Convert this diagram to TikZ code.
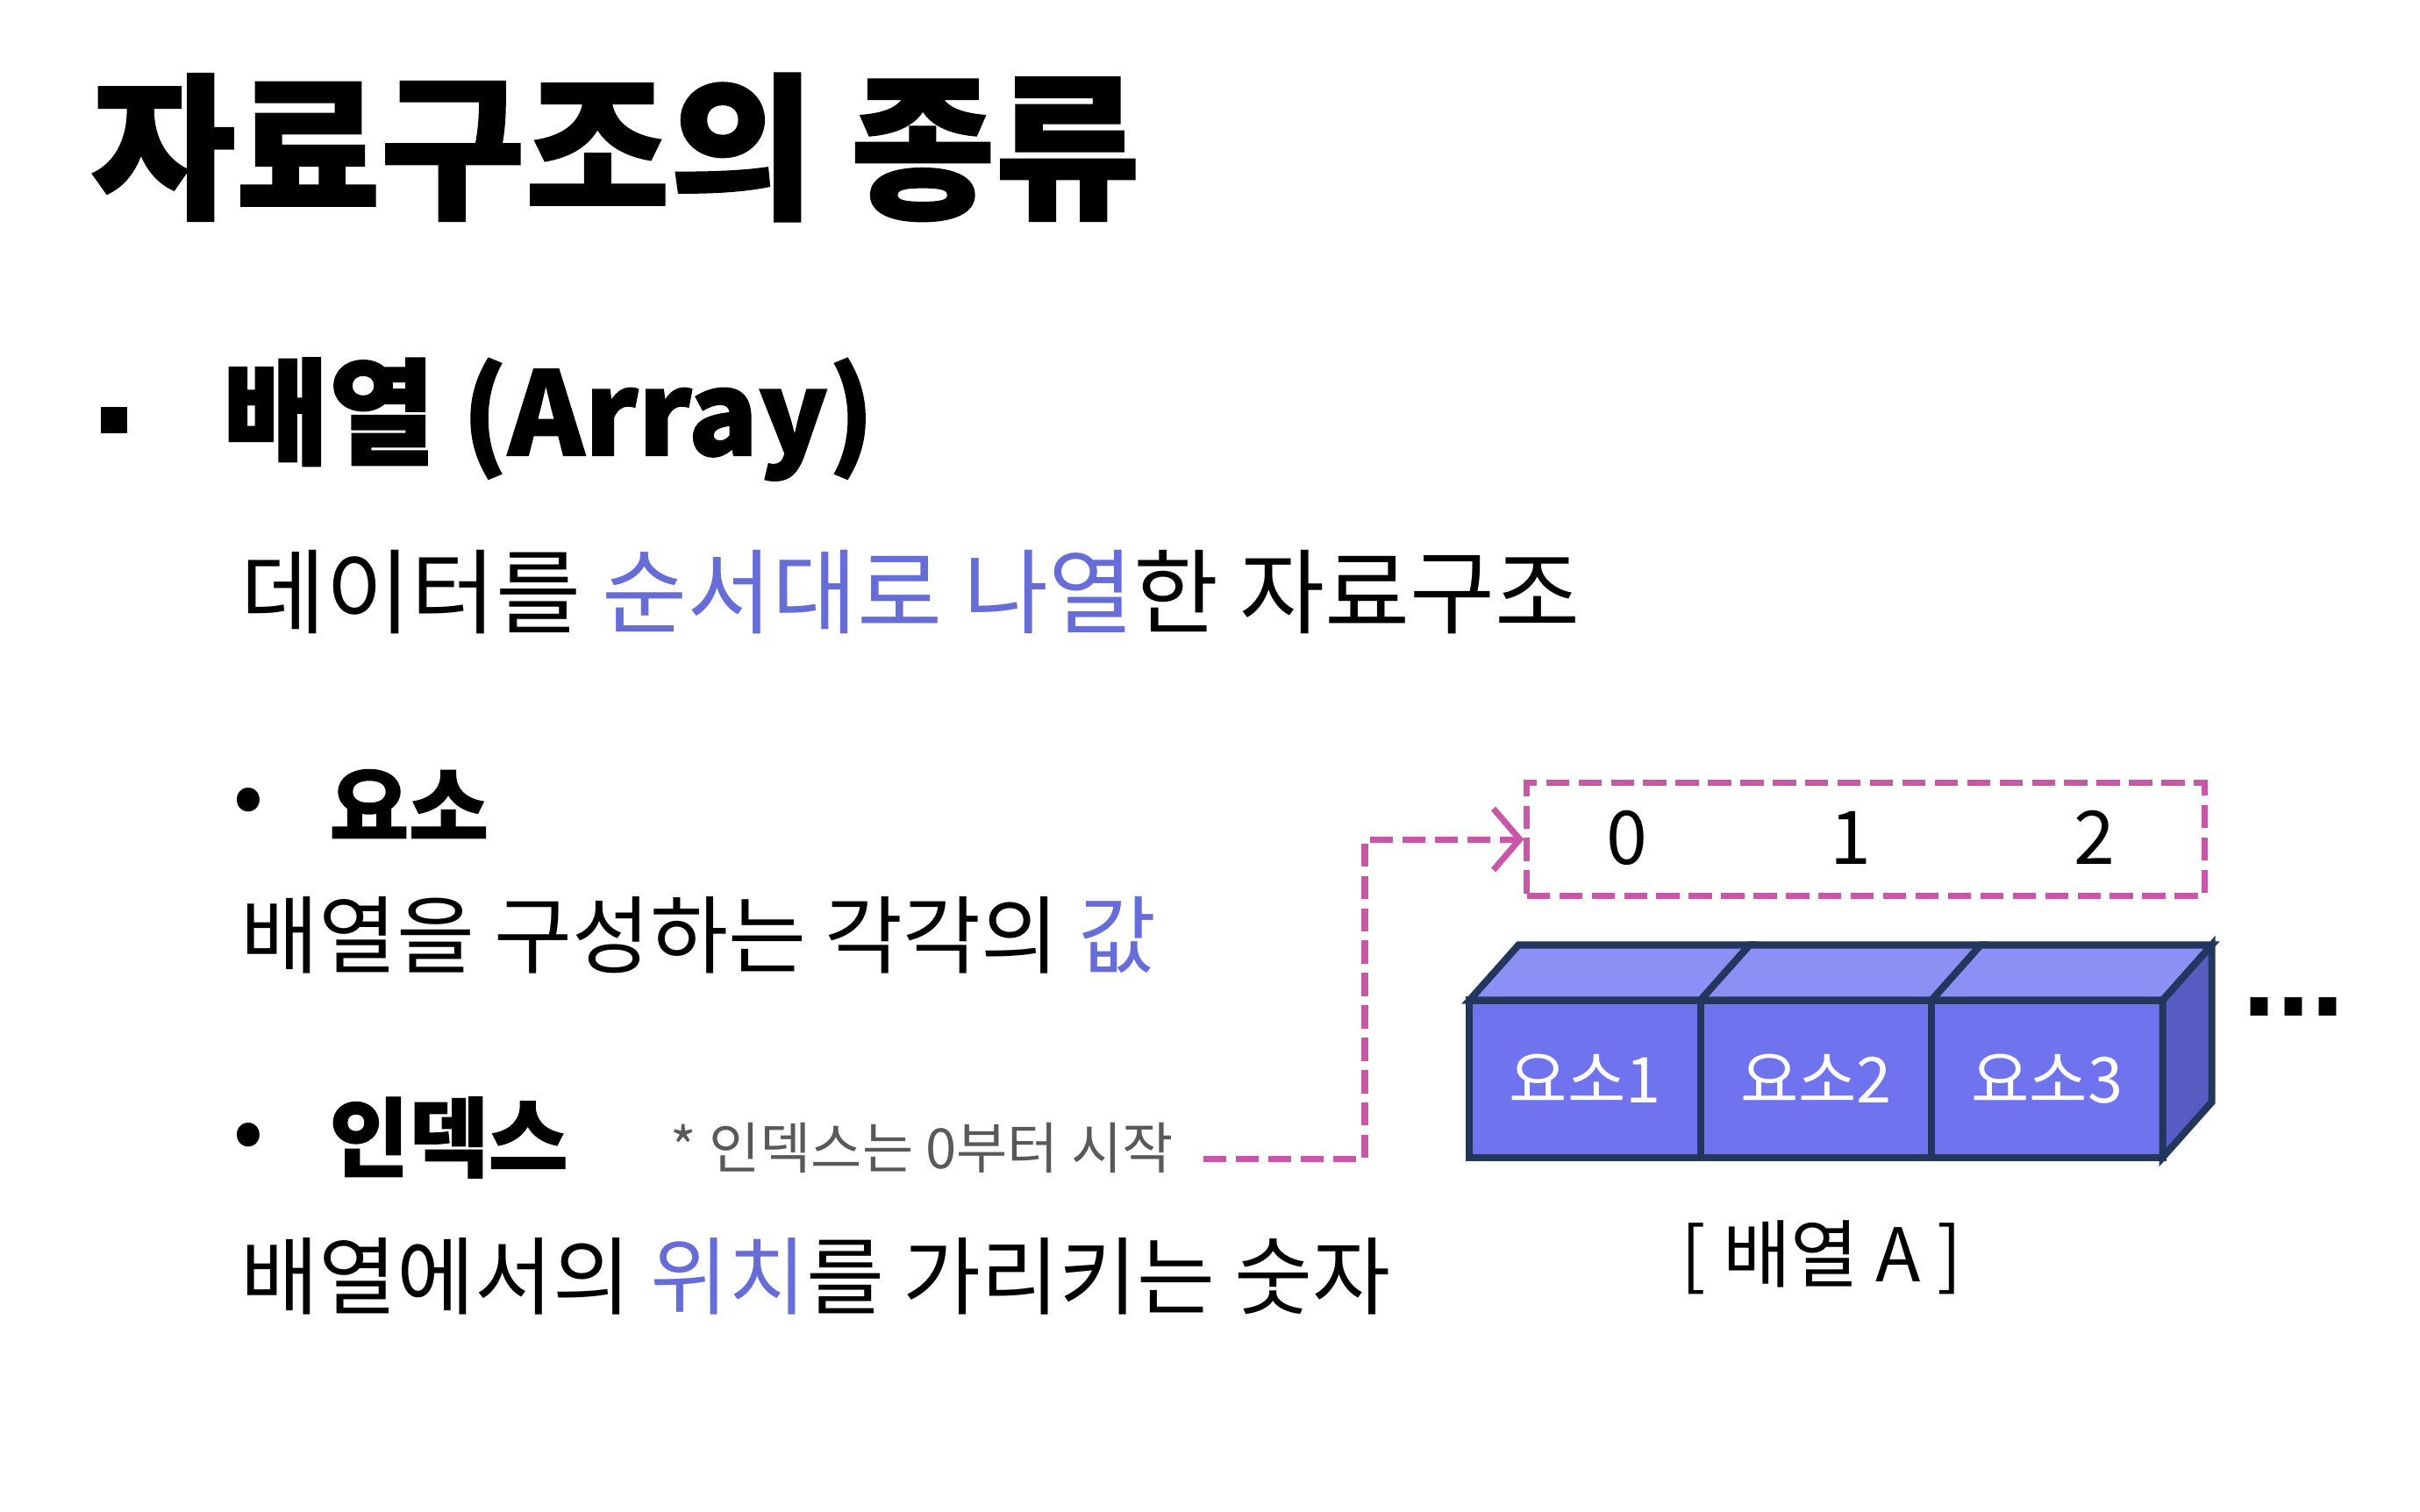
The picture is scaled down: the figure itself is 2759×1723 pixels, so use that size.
\documentclass[tikz,border=0pt]{standalone}
\usepackage{fontspec}
\setmainfont{Noto Sans CJK KR}
\newfontfamily\heavyfont{Noto Sans CJK KR}[FakeBold=1.2]
\newfontfamily\dotfont{Liberation Sans}
\usetikzlibrary{arrows.meta, positioning}
\definecolor{keyblue}{HTML}{666CD8}
\definecolor{notegray}{HTML}{595959}
\definecolor{pinkdash}{HTML}{C956A8}
\definecolor{cubeline}{HTML}{22365E}
\definecolor{cubefront}{HTML}{6F73EE}
\definecolor{cubetop}{HTML}{8C90F5}
\definecolor{cubeside}{HTML}{575CC2}
\newcommand{\fsz}[1]{\fontsize{#1}{1.2\dimexpr #1pt\relax}\selectfont}
\tikzstyle{heading} = [anchor=west, inner sep=0pt, font=\heavyfont\fsz{51}\bfseries]
\tikzstyle{subhead} = [anchor=west, inner sep=0pt, font=\heavyfont\fsz{37.5}\bfseries]
\tikzstyle{itemhead} = [anchor=west, inner sep=0pt, font=\heavyfont\fsz{28}\bfseries]
\tikzstyle{bodytext} = [anchor=west, inner sep=0pt, font=\fsz{27.5}]
\tikzstyle{dot} = [inner sep=0pt, font=\fsz{24}\bfseries]
\tikzstyle{notetext} = [anchor=west, inner sep=0pt, text=notegray, font=\fsz{18}]
\tikzstyle{idxbox} = [rectangle, draw=pinkdash, line width=2pt, dash pattern=on 7.5pt off 3pt, minimum width=7.72cm, minimum height=1.28cm]
\tikzstyle{idxnum} = [inner sep=0pt, font=\fsz{24}]
\tikzstyle{cell} = [rectangle, draw=cubeline, fill=cubefront, line width=2.3pt, outer sep=0pt, minimum width=2.633cm, minimum height=1.79cm, text=white, font=\fsz{20.5}]
\tikzstyle{face} = [draw=cubeline, line width=2.3pt]
\tikzstyle{arrow} = [draw=pinkdash, line width=2pt, dash pattern=on 7.5pt off 3pt, -{Straight Barb[length=3mm, width=7mm]}]

\begin{document}
\begin{tikzpicture}[x=0.01cm, y=-0.01cm]
\useasboundingbox (0,0) rectangle (2759,1723);

\node (title) [heading] at (103,168) {자료구조의 종류};

\node (sq) [fill=black, minimum size=0.3cm, inner sep=0pt] at (130,479) {};
\node (array) [subhead] at (253,478) {배열 (Array)};
\node (arraydef) [bodytext, font=\fsz{30}] at (274,675) {데이터를 \textcolor{keyblue}{순서대로 나열}한 자료구조};

\node (dot1) [dot] at (283,918) {•};
\node (elem) [itemhead] at (375,917) {요소};
\node (elemdef) [bodytext] at (274,1066) {배열을 구성하는 각각의 \textcolor{keyblue}{값}};

\node (dot2) [dot] at (283,1300) {•};
\node (index) [itemhead] at (375,1297) {인덱스};
\node (note) [notetext] at (764,1309) {* 인덱스는 0부터 시작};
\node (indexdef) [bodytext] at (274,1455) {배열에서의 \textcolor{keyblue}{위치}를 가리키는 숫자};

\node (idx) [idxbox] at (2127,957) {};
\node (idx0) [idxnum] at (1855,955) {0};
\node (idx1) [idxnum] at (2110,955) {1};
\node (idx2) [idxnum] at (2388,955) {2};

\coordinate (noteend) at (1372,1321);
\coordinate (bend) at (1556,957);
\draw [arrow] (noteend) -| (bend) -- (idx.west);

\node (cell1) [cell] at (1807,1230) {요소1};
\node (cell2) [cell, right=0pt of cell1] {요소2};
\node (cell3) [cell, right=0pt of cell2] {요소3};

\foreach \c in {cell1,cell2,cell3}
  \draw [face, fill=cubetop] (\c.north west) -- ([shift={(56,-63)}]\c.north west) -- ([shift={(56,-63)}]\c.north east) -- (\c.north east) -- cycle;
\draw [face, fill=cubeside] (cell3.north east) -- ([shift={(56,-63)}]cell3.north east) -- ([shift={(56,-63)}]cell3.south east) -- (cell3.south east) -- cycle;

\node (more) [inner sep=0pt, font=\dotfont\fsz{40}\bfseries] at (2615,1148) {...};

\node (caption) [inner sep=0pt, font=\fsz{24}] at (2077,1434) {[ 배열 A ]};

\end{tikzpicture}
\end{document}
